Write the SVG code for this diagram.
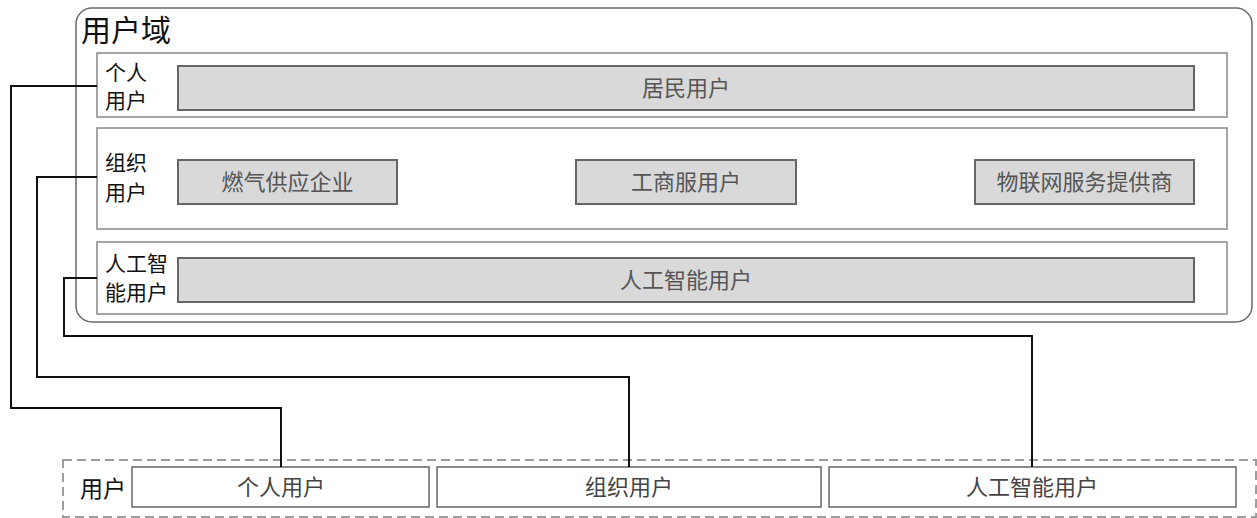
<svg xmlns="http://www.w3.org/2000/svg" width="1257" height="518" viewBox="0 0 1257 518">
<style>
text{font-family:"Noto Sans CJK SC","Noto Sans",sans-serif}
.outer{fill:#fff;stroke:#6a6a6a;stroke-width:1.5}
.panel{fill:#fff;stroke:#888;stroke-width:1.5}
.bar{fill:#d9d9d9;stroke:#666;stroke-width:2}
.btn{fill:#fff;stroke:#666;stroke-width:1.5}
.lbl{font-size:21px;fill:#111}
.bt{font-size:22px;fill:#555;text-anchor:middle}
.conn{fill:none;stroke:#111;stroke-width:2}
.dash{fill:none;stroke:#9a9e9e;stroke-width:2;stroke-dasharray:9 5}
</style>
<g id="user-domain">
<rect class="outer" x="76" y="8" width="1176" height="314" rx="16"/>
<text x="81" y="41" style="font-size:30px;fill:#111">用户域</text>
</g>
<g id="personal-panel">
<rect class="panel" x="97" y="53" width="1130" height="64"/>
<text class="lbl" x="105" y="80">个人</text>
<text class="lbl" x="105" y="108">用户</text>
</g>
<g id="resident">
<rect class="bar" x="178" y="66" width="1016" height="44"/>
<text class="bt" x="686" y="96">居民用户</text>
</g>
<g id="org-panel">
<rect class="panel" x="97" y="128" width="1130" height="101"/>
<text class="lbl" x="105" y="170">组织</text>
<text class="lbl" x="105" y="200">用户</text>
</g>
<g id="gas-supplier">
<rect class="bar" x="178" y="160" width="219" height="44"/>
<text class="bt" x="287.5" y="190">燃气供应企业</text>
</g>
<g id="commercial">
<rect class="bar" x="576" y="160" width="220" height="44"/>
<text class="bt" x="686" y="190">工商服用户</text>
</g>
<g id="iot-provider">
<rect class="bar" x="975" y="160" width="219" height="44"/>
<text class="bt" x="1084.5" y="190">物联网服务提供商</text>
</g>
<g id="ai-panel">
<rect class="panel" x="97" y="242" width="1130" height="72"/>
<text class="lbl" x="105" y="271">人工智</text>
<text class="lbl" x="105" y="300">能用户</text>
</g>
<g id="ai-user">
<rect class="bar" x="178" y="258" width="1016" height="44"/>
<text class="bt" x="686" y="288">人工智能用户</text>
</g>
<g id="users">
<rect class="dash" x="63" y="460" width="1193" height="57"/>
<text x="80" y="497" style="font-size:23px;fill:#111">用户</text>
</g>
<g id="user-personal">
<rect class="btn" x="132" y="467" width="297" height="40"/>
<text class="bt" x="281" y="495" style="fill:#444">个人用户</text>
</g>
<g id="user-org">
<rect class="btn" x="437" y="467" width="384" height="40"/>
<text class="bt" x="629" y="495" style="fill:#444">组织用户</text>
</g>
<g id="user-ai">
<rect class="btn" x="829" y="467" width="407" height="40"/>
<text class="bt" x="1032" y="495" style="fill:#444">人工智能用户</text>
</g>
<g id="connectors">
<polyline class="conn" points="97,86 11,86 11,408 281,408 281,467"/>
<polyline class="conn" points="97,177 37,177 37,377 629,377 629,467"/>
<polyline class="conn" points="97,278 64,278 64,336 1032,336 1032,467"/>
</g>
</svg>
